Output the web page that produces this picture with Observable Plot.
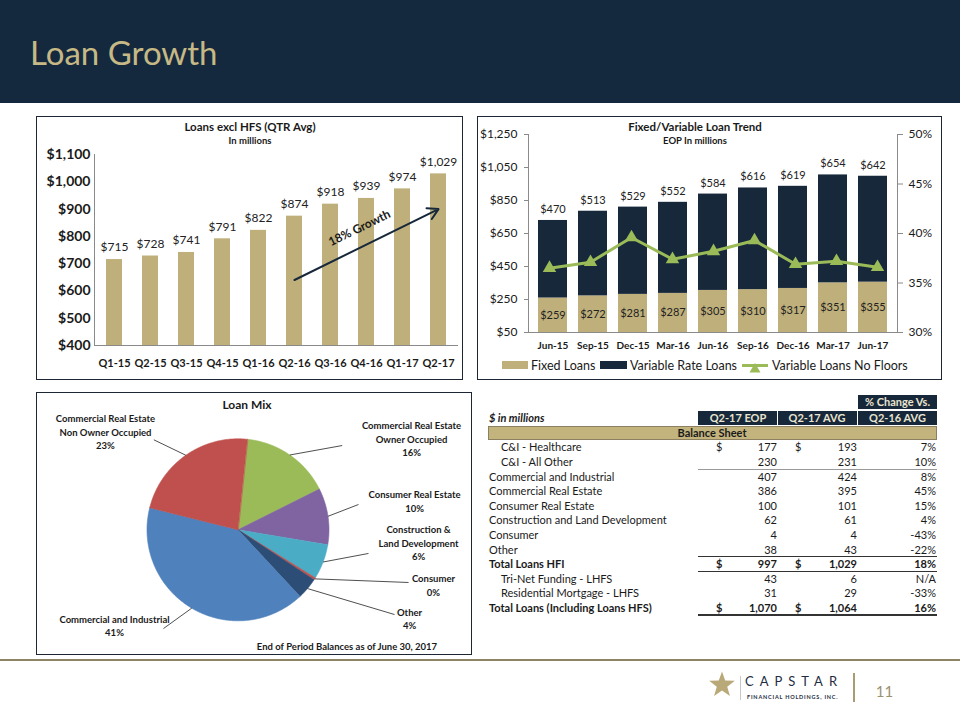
<!DOCTYPE html>
<html><head><meta charset="utf-8">
<script src="https://cdn.jsdelivr.net/npm/d3@7"></script>
<script src="https://cdn.jsdelivr.net/npm/@observablehq/plot@0.6"></script>
<style>
html,body{margin:0;padding:0}
body{width:960px;height:720px;position:relative;background:#fff;font-family:Lato,"Open Sans",sans-serif;overflow:hidden;color:#1a1a1a}
</style></head><body>
<script>
// ---------- DATA ----------
const quarters = ["Q1-15","Q2-15","Q3-15","Q4-15","Q1-16","Q2-16","Q3-16","Q4-16","Q1-17","Q2-17"];
const avgLoans = [715,728,741,791,822,874,918,939,974,1029];
const growthLabel = "18% Growth";

const months = ["Jun-15","Sep-15","Dec-15","Mar-16","Jun-16","Sep-16","Dec-16","Mar-17","Jun-17"];
const fixedLoans = [259,272,281,287,305,310,317,351,355];
const variableLoans = [470,513,529,552,584,616,619,654,642];
const noFloorPct = [0.365,0.371,0.396,0.374,0.382,0.393,0.369,0.372,0.366];
const trendSeries = ["Fixed Loans","Variable Rate Loans","Variable Loans No Floors"];

const mixCategories = ["CRE Owner Occupied","Consumer Real Estate","Construction & Land Development","Consumer","Other","Commercial and Industrial","CRE Non Owner Occupied"];
const mixLabels = ["Commercial Real Estate\nOwner Occupied","Consumer Real Estate","Construction &\nLand Development","Consumer","Other","Commercial and Industrial","Commercial Real Estate\nNon Owner Occupied"];
const mixValues = [159,100,62,4,38,407,227];

const tableLabels = ["C&I - Healthcare","C&I - All Other","Commercial and Industrial","Commercial Real Estate","Consumer Real Estate","Construction and Land Development","Consumer","Other","Total Loans HFI","Tri-Net Funding - LHFS","Residential Mortgage - LHFS","Total Loans (Including Loans HFS)"];
const tableEop = [177,230,407,386,100,62,4,38,997,43,31,1070];
const tableAvg = [193,231,424,395,101,61,4,43,1029,6,29,1064];
const tableChange = ["7%","10%","8%","45%","15%","4%","-43%","-22%","18%","N/A","-33%","16%"];
const tableHeaders = ["Q2-17 EOP","Q2-17 AVG","Q2-16 AVG"];

// ---------- STYLE / LAYOUT ----------
const TAN = "#bfb07b", NAVY = "#17283b", GREEN = "#9bbb59", AXIS = "#8a8a8a", INK = "#1a1a1a";
const pieColors = ["#9bbb59","#8064a2","#4bacc6","#c0504d","#2c4d75","#4f81bd","#c0504d"];
const rowIndent = [1,1,0,0,0,0,0,0,0,1,1,0];
const rowBold = [0,0,0,0,0,0,0,0,1,0,0,1];
const rowDollar = [1,0,0,0,0,0,0,0,1,0,0,1];
const fmt$ = d => "$" + d3.format(",")(d);
const baseStyle = {background:"transparent", fontFamily:"Lato, sans-serif", color: INK, overflow:"visible"};

function place(el, left, top) {
  const d = document.createElement("div");
  d.style.cssText = `position:absolute;left:${left}px;top:${top}px;`;
  d.appendChild(el); document.body.appendChild(d); return d;
}
function rect(x, y, w, h, bg, extra="") {
  const d = document.createElement("div");
  d.style.cssText = `position:absolute;left:${x}px;top:${y}px;width:${w}px;height:${h}px;background:${bg};box-sizing:border-box;${extra}`;
  document.body.appendChild(d); return d;
}
function txt(s, x, y, o={}) {
  const d = document.createElement("div");
  const a = o.align || "left";
  const tx = a === "center" ? "-50%" : a === "right" ? "-100%" : "0";
  d.style.cssText = `position:absolute;left:${x}px;top:${y}px;transform:translate(${tx},-50%);white-space:nowrap;font-size:${o.size||11}px;font-weight:${o.weight||400};color:${o.color||INK};line-height:1.2;${o.italic?"font-style:italic;":""}${o.ls?`letter-spacing:${o.ls}px;`:""}`;
  d.textContent = s; document.body.appendChild(d); return d;
}

// ---------- HEADER ----------
rect(0, 0, 960, 103, "#15293e");
txt("Loan Growth", 30, 53, {size:33, color:"#c6b985"});

// panel borders
rect(36, 116, 427, 264, "transparent", "border:1px solid #1c2733;");
rect(477, 116, 465, 264, "transparent", "border:1px solid #1c2733;");
rect(36, 392, 436, 263, "transparent", "border:1px solid #1c2733;");

// ---------- CHART 1 ----------
const loanData = quarters.map((q, i) => ({q, v: avgLoans[i]}));
const growthArrow = [{from: quarters[5], fromV: 640, to: quarters[9], toV: 900}];
const c1 = Plot.plot({
  width: 427, height: 264, marginLeft: 58, marginRight: 5, marginTop: 38, marginBottom: 35,
  style: baseStyle,
  x: {domain: quarters, paddingInner: 0.56, paddingOuter: 0.31, label: null},
  y: {domain: [400, 1100], label: null},
  marks: [
    Plot.barY(loanData, {x: "q", y1: 400, y2: "v", fill: TAN}),
    Plot.ruleY([400], {stroke: AXIS}),
    Plot.frame({anchor: "left", stroke: AXIS}),
    Plot.axisY({ticks: d3.range(400, 1101, 100), tickFormat: fmt$, tickSize: 0, tickPadding: 4, fontSize: 14, fontWeight: "bold", label: null}),
    Plot.axisX({tickSize: 0, tickPadding: 14, fontSize: 11, fontWeight: "bold", label: null}),
    Plot.text(loanData, {x: "q", y: "v", text: d => fmt$(d.v), dy: -12, fontSize: 12, fill: "#222"}),
    Plot.arrow(growthArrow, {x1: "from", y1: "fromV", x2: "to", y2: "toV", stroke: NAVY, strokeWidth: 2, headLength: 9}),
    Plot.text([{t: growthLabel, x: quarters[7], y: 830}], {x: "x", y: "y", text: "t", rotate: -26, dx: -7, fontSize: 12, fontWeight: "bold", fill: INK})
  ]
});
place(c1, 36, 116);
txt("Loans excl HFS (QTR Avg)", 250, 127, {align:"center", size:11.5, weight:700});
txt("In millions", 250, 141, {align:"center", size:9.5, weight:700});

// ---------- CHART 2 ----------
const trend = months.flatMap((m, i) => [
  {m, type: trendSeries[0], v: fixedLoans[i]},
  {m, type: trendSeries[1], v: variableLoans[i]}
]);
const trendRows = months.map((m, i) => ({m, fixed: fixedLoans[i], variable: variableLoans[i], total: fixedLoans[i] + variableLoans[i], pct: noFloorPct[i]}));
const yMin2 = 50;
const dims2 = {width: 465, height: 264, marginLeft: 51, marginRight: 45, marginTop: 18, marginBottom: 48};
const x2 = {domain: months, paddingInner: 0.287, paddingOuter: 0.18, label: null};
const c2 = Plot.plot({
  ...dims2, style: baseStyle, x: x2,
  y: {domain: [yMin2, 1250], label: null},
  color: {domain: trendSeries.slice(0, 2), range: [TAN, NAVY]},
  marks: [
    Plot.barY(trend, {x: "m", y: "v", fill: "type", clip: true}),
    Plot.ruleY([yMin2], {stroke: AXIS}),
    Plot.frame({anchor: "left", stroke: AXIS}),
    Plot.axisY({ticks: d3.range(50, 1251, 200), tickFormat: fmt$, tickSize: 4, tickPadding: 7, fontSize: 12, label: null, stroke: AXIS, fill: INK}),
    Plot.axisX({tickSize: 0, tickPadding: 9, fontSize: 10, fontWeight: "bold", label: null}),
    Plot.text(trendRows, {x: "m", y: d => (yMin2 + d.fixed) / 2, text: d => fmt$(d.fixed), fontSize: 11, fill: "#222"}),
    Plot.text(trendRows, {x: "m", y: "total", text: d => fmt$(d.variable), dy: -11, fontSize: 11, fill: "#222"})
  ]
});
place(c2, 477, 116);
const c2b = Plot.plot({
  ...dims2, style: baseStyle, x: {...x2, axis: null},
  y: {domain: [0.30, 0.50], label: null},
  marks: [
    Plot.frame({anchor: "right", stroke: AXIS}),
    Plot.axisY({anchor: "right", ticks: [0.30, 0.35, 0.40, 0.45, 0.50], tickFormat: d3.format(".0%"), tickSize: 5, tickPadding: 6, fontSize: 12, label: null, stroke: AXIS, fill: INK}),
    Plot.line(trendRows, {x: "m", y: "pct", stroke: GREEN, strokeWidth: 3}),
    Plot.dot(trendRows, {x: "m", y: "pct", symbol: "triangle", fill: GREEN, r: 5})
  ]
});
place(c2b, 477, 116);
txt("Fixed/Variable Loan Trend", 695, 127, {align:"center", size:11.5, weight:700});
txt("EOP In millions", 695, 141, {align:"center", size:9.5, weight:700});
// legend
rect(502, 361, 26, 8, TAN);
txt(trendSeries[0], 531, 365, {size:12.5});
rect(600, 361, 27, 8, NAVY);
txt(trendSeries[1], 630, 365, {size:12.5});
rect(742, 363.5, 26, 3, GREEN);
{
  const s = document.createElementNS("http://www.w3.org/2000/svg", "svg");
  s.setAttribute("width", 12); s.setAttribute("height", 12);
  s.innerHTML = `<polygon points="6,1 11.5,10.5 0.5,10.5" fill="${GREEN}"/>`;
  place(s, 749, 358);
}
txt(trendSeries[2], 772, 365, {size:12.5});

// ---------- CHART 3: PIE ----------
const total = d3.sum(mixValues);
const mixData = mixCategories.map((k, i) => ({k, v: mixValues[i], label: mixLabels[i] + "\n" + Math.round(mixValues[i] / total * 100) + "%"}));
const startA = 6 * Math.PI / 180;
const arcs = d3.pie().value(d => d.v).sort(null).startAngle(startA).endAngle(startA + 2 * Math.PI)(mixData);
const piePts = arcs.flatMap(a => {
  const pts = [{k: a.data.k, x: 0, y: 0}];
  const n = Math.max(2, Math.ceil((a.endAngle - a.startAngle) / 0.01));
  for (let j = 0; j <= n; j++) {
    const th = a.startAngle + (a.endAngle - a.startAngle) * j / n;
    pts.push({k: a.data.k, x: Math.sin(th), y: Math.cos(th)});
  }
  return pts;
});
// label layout (pie radius units)
const labelPos = [[1.907,1.003],[1.940,0.322],[1.984,-0.140],[2.148,-0.601],[1.885,-0.969],[-1.357,-1.046],[-1.456,1.080]];
const leaderPos = [[1.145,0.926],[1.324,0.278],[1.434,-0.260],[1.874,-0.579],[1.720,-0.931],[-0.819,-1.085],[-0.925,0.989]];
const labelRows = arcs.map((a, i) => {
  const mid = (a.startAngle + a.endAngle) / 2;
  return {label: a.data.label, lx: labelPos[i][0], ly: labelPos[i][1], ax: leaderPos[i][0], ay: leaderPos[i][1], ex: Math.sin(mid), ey: Math.cos(mid)};
});
const c3 = Plot.plot({
  width: 436, height: 263, marginLeft: 110.5, marginTop: 46.3, marginRight: 143.5, marginBottom: 34.7,
  style: baseStyle,
  x: {domain: [-1, 1], axis: null},
  y: {domain: [-1, 1], axis: null},
  color: {domain: mixCategories, range: pieColors},
  marks: [
    Plot.line(piePts, {x: "x", y: "y", z: "k", fill: "k", stroke: "k", strokeWidth: 0.6, curve: "linear-closed"}),
    Plot.link(labelRows, {x1: "ax", y1: "ay", x2: "ex", y2: "ey", stroke: "#222", strokeWidth: 0.8}),
    Plot.text(labelRows, {x: "lx", y: "ly", text: "label", fontSize: 9.5, fontWeight: "bold", lineHeight: 1.42, fill: INK})
  ]
});
place(c3, 36, 392);
txt("Loan Mix", 247, 405, {align:"center", size:12, weight:700});
txt("End of Period Balances as of June 30, 2017", 347, 647, {align:"center", size:9.5, weight:700});

// ---------- TABLE ----------
rect(858, 395, 79, 14, NAVY);
txt("% Change Vs.", 897.5, 402, {align:"center", size:11, weight:700, color:"#e9e4cf"});
rect(698, 410.5, 239, 14.5, NAVY);
rect(777, 410.5, 1, 14.5, "#fff");
rect(857, 410.5, 1, 14.5, "#fff");
const headCx = [738, 817, 897.5];
tableHeaders.forEach((h, i) => txt(h, headCx[i], 418, {align:"center", size:11, weight:700, color:"#e9e4cf"}));
txt("$ in millions", 489, 418, {size:11, weight:700, italic:true});
rect(488, 426, 449, 13.5, "#c3b37d", "border:1px solid #8d8060;");
txt("Balance Sheet", 712, 432.5, {align:"center", size:11, weight:700});
const fmtN = d3.format(",");
tableLabels.forEach((lab, i) => {
  const y = 447.3 + i * 14.6;
  const w = rowBold[i] ? 700 : 400;
  txt(lab, rowIndent[i] ? 501 : 489, y, {size:11, weight:w});
  if (rowDollar[i]) { txt("$", 716, y, {size:11, weight:w}); txt("$", 795, y, {size:11, weight:w}); }
  txt(fmtN(tableEop[i]), 777, y, {align:"right", size:11, weight:w});
  txt(fmtN(tableAvg[i]), 857, y, {align:"right", size:11, weight:w});
  txt(tableChange[i], 936, y, {align:"right", size:11, weight:w});
});
rect(698, 469, 239, 1, "#9a9a9a");
rect(698, 556, 239, 1, "#333");
rect(698, 571, 239, 1, "#333");
rect(698, 613.5, 239, 2, "#333");

// ---------- FOOTER ----------
rect(0, 659, 960, 2, "#8c8462");
{
  const s = document.createElementNS("http://www.w3.org/2000/svg", "svg");
  s.setAttribute("width", 30); s.setAttribute("height", 30);
  const pts = d3.range(10).map(j => { const r = j % 2 ? 5.5 : 13.5, a = j * Math.PI / 5; return [15 + r * Math.sin(a), 16 - r * Math.cos(a)].join(","); }).join(" ");
  s.innerHTML = `<polygon points="${pts}" fill="#b9a978"/>`;
  place(s, 707, 669);
}
rect(740, 676, 1, 24, "#c8c8c8");
txt("CAPSTAR", 745, 681.5, {size:13, ls:6, color:"#1e2d3f"});
txt("FINANCIAL HOLDINGS, INC.", 747, 696.5, {size:5.5, weight:700, ls:0.8, color:"#1e2d3f"});
rect(853, 673, 1.5, 29, "#a89c70");
txt("11", 884.5, 691, {align:"center", size:15, color:"#9b9272"});
</script>
</body></html>
